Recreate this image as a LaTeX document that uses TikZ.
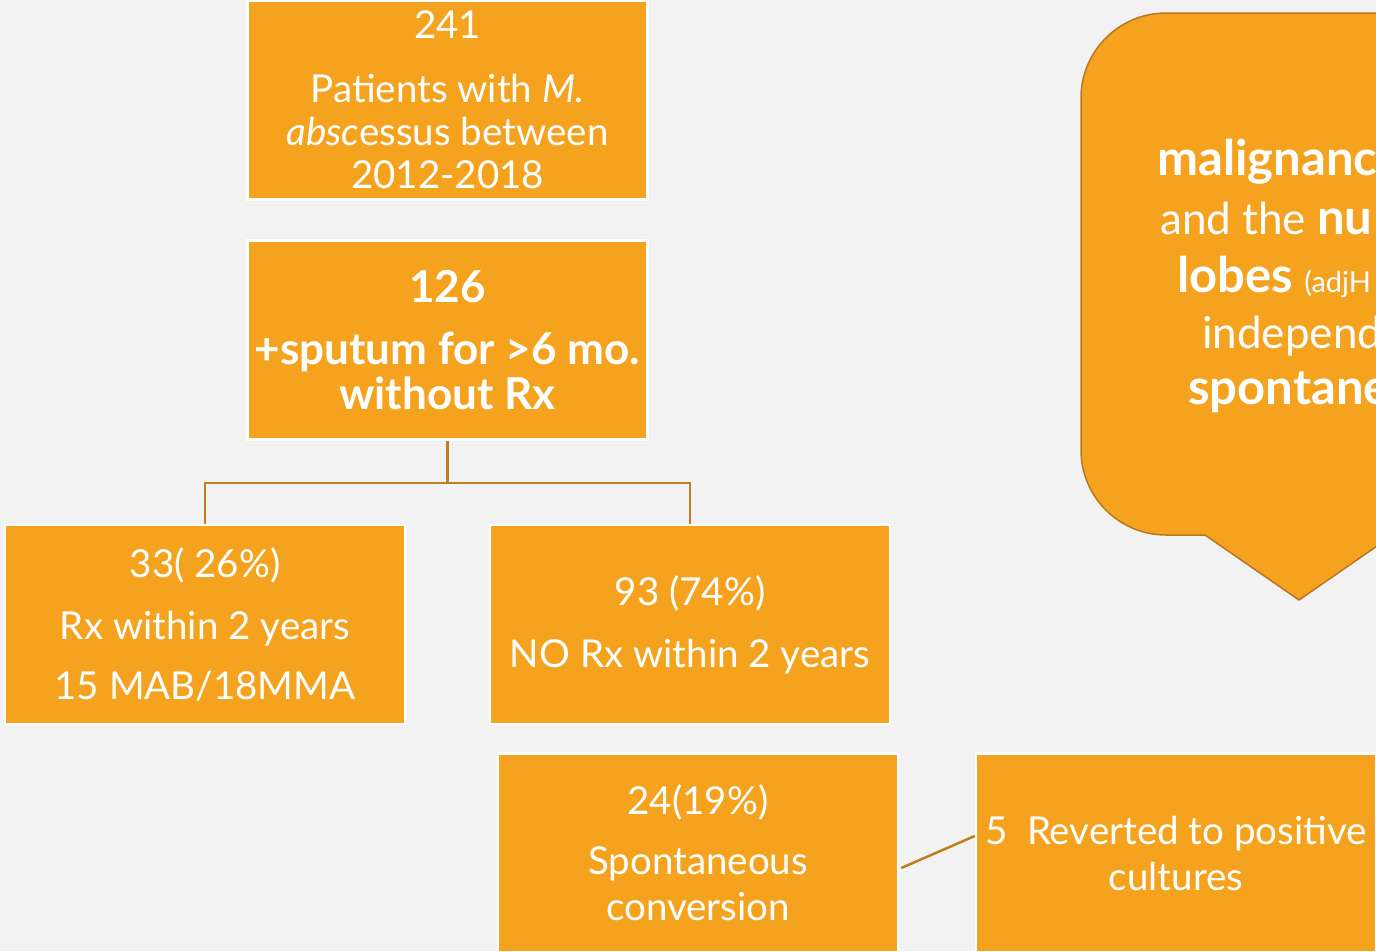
\documentclass[tikz,border=0pt]{standalone}
\usepackage{fontspec}
\setmainfont{Lato}
\usetikzlibrary{calc}
\definecolor{bg}{HTML}{F2F2F2}
\definecolor{orangefill}{HTML}{F5A31F}
\definecolor{linkcol}{HTML}{BF7F1C}
\definecolor{calloutline}{HTML}{B8781E}
\begin{document}
\begin{tikzpicture}[x=1pt,y=1pt,
  box/.style={draw=white, line width=2.5pt, fill=orangefill, minimum width=400pt,
    minimum height=199pt, inner sep=0pt, text=white, align=center,
    font=\fontsize{38.5}{43}\selectfont},
  link/.style={draw=linkcol, line width=2.5pt},
  calltext/.style={anchor=west, inner sep=0pt, text=white, font=\fontsize{44}{48}\selectfont}]
\fill[bg] (0,0) rectangle (1376,-951);
\useasboundingbox (0,0) rectangle (1376,-951);
% callout
\draw[fill=orangefill, draw=calloutline, line width=1.5pt]
  (1500,-13) -- (1166,-13) arc[start angle=90, end angle=180, radius=85]
  -- (1081,-450) arc[start angle=180, end angle=270, radius=85]
  -- (1205,-535) -- (1299,-600) -- (1393,-535) -- (1500,-535);
\node[calltext] (c1) at (1157,-162) {\fontsize{49}{48}\selectfont\bfseries malignanc};
\node[calltext] (c2) at (1160,-218) {and the {\fontsize{49}{48}\selectfont\bfseries nu}};
\node[calltext] (c3) at (1177,-277) {{\fontsize{49}{48}\selectfont\bfseries lobes} {\fontsize{29}{30}\selectfont (adjH}};
\node[calltext] (c4) at (1202,-336) {independ};
\node[calltext] (c5) at (1188,-392) {\fontsize{49}{48}\selectfont\bfseries spontane};
% boxes
\node[box] (b1) at (447.5,-100) {241\\[21pt] Patients with \textit{M.}\\ \textit{absc}essus between\\ 2012-2018};
\node[box, font=\fontsize{44}{45}\selectfont\bfseries] (b2) at (447.5,-340) {126\\[17pt] +sputum for >6 mo.\\ without Rx};
\node[box] (b3) at (205,-624.5) {33( 26\%)\\[19pt] Rx within 2 years\\[17pt] 15 MAB/18MMA};
\node[box] (b4) at (690,-624.5) {93 (74\%)\\[19pt] NO Rx within 2 years};
\node[box] (b5) at (698,-853) {24(19\%)\\[17pt] Spontaneous\\[3pt] conversion};
\node[box] (b6) at (1176,-853) {5\ \ Reverted to positive\\[3pt] cultures};
% connectors
\draw[link] (b2.south) -- ++(0,-42) -| (b3.north);
\draw[link] (b2.south) -- ++(0,-42) -| (b4.north);
\draw[link] ($(b5.east)+(2,-15)$) -- ($(b6.west)+(0,17)$);
\end{tikzpicture}
\end{document}
